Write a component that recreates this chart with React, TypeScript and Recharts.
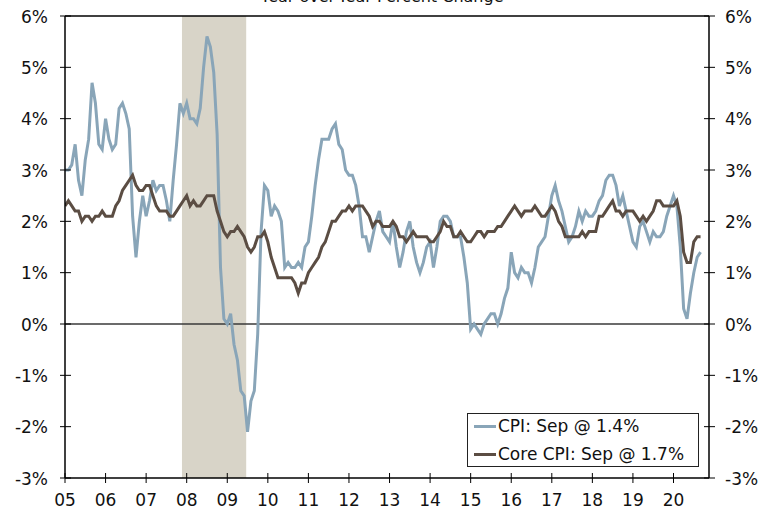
import React from "react";
import {
  LineChart,
  Line,
  XAxis,
  YAxis,
  ReferenceArea,
  ReferenceLine,
  Legend,
} from "recharts";

// Monthly YoY % change, Jan 2005 .. Sep 2020
const cpi: number[] = [
  // 2005
  3.0, 3.0, 3.1, 3.5, 2.8, 2.5, 3.2, 3.6, 4.7, 4.3, 3.5, 3.4,
  // 2006
  4.0, 3.6, 3.4, 3.5, 4.2, 4.3, 4.1, 3.8, 2.1, 1.3, 2.0, 2.5,
  // 2007
  2.1, 2.4, 2.8, 2.6, 2.7, 2.7, 2.4, 2.0, 2.8, 3.5, 4.3, 4.1,
  // 2008
  4.3, 4.0, 4.0, 3.9, 4.2, 5.0, 5.6, 5.4, 4.9, 3.7, 1.1, 0.1,
  // 2009
  0.0, 0.2, -0.4, -0.7, -1.3, -1.4, -2.1, -1.5, -1.3, -0.2, 1.8, 2.7,
  // 2010
  2.6, 2.1, 2.3, 2.2, 2.0, 1.1, 1.2, 1.1, 1.1, 1.2, 1.1, 1.5,
  // 2011
  1.6, 2.1, 2.7, 3.2, 3.6, 3.6, 3.6, 3.8, 3.9, 3.5, 3.4, 3.0,
  // 2012
  2.9, 2.9, 2.7, 2.3, 1.7, 1.7, 1.4, 1.7, 2.0, 2.2, 1.8, 1.7,
  // 2013
  1.6, 2.0, 1.5, 1.1, 1.4, 1.8, 2.0, 1.5, 1.2, 1.0, 1.2, 1.5,
  // 2014
  1.6, 1.1, 1.5, 2.0, 2.1, 2.1, 2.0, 1.7, 1.7, 1.7, 1.3, 0.8,
  // 2015
  -0.1, 0.0, -0.1, -0.2, 0.0, 0.1, 0.2, 0.2, 0.0, 0.2, 0.5, 0.7,
  // 2016
  1.4, 1.0, 0.9, 1.1, 1.0, 1.0, 0.8, 1.1, 1.5, 1.6, 1.7, 2.1,
  // 2017
  2.5, 2.7, 2.4, 2.2, 1.9, 1.6, 1.7, 1.9, 2.2, 2.0, 2.2, 2.1,
  // 2018
  2.1, 2.2, 2.4, 2.5, 2.8, 2.9, 2.9, 2.7, 2.3, 2.5, 2.2, 1.9,
  // 2019
  1.6, 1.5, 1.9, 2.0, 1.8, 1.6, 1.8, 1.7, 1.7, 1.8, 2.1, 2.3,
  // 2020
  2.5, 2.3, 1.5, 0.3, 0.1, 0.6, 1.0, 1.3, 1.4,
];

const core: number[] = [
  // 2005
  2.3, 2.4, 2.3, 2.2, 2.2, 2.0, 2.1, 2.1, 2.0, 2.1, 2.1, 2.2,
  // 2006
  2.1, 2.1, 2.1, 2.3, 2.4, 2.6, 2.7, 2.8, 2.9, 2.7, 2.6, 2.6,
  // 2007
  2.7, 2.7, 2.5, 2.3, 2.2, 2.2, 2.2, 2.1, 2.1, 2.2, 2.3, 2.4,
  // 2008
  2.5, 2.3, 2.4, 2.3, 2.3, 2.4, 2.5, 2.5, 2.5, 2.2, 2.0, 1.8,
  // 2009
  1.7, 1.8, 1.8, 1.9, 1.8, 1.7, 1.5, 1.4, 1.5, 1.7, 1.7, 1.8,
  // 2010
  1.6, 1.3, 1.1, 0.9, 0.9, 0.9, 0.9, 0.9, 0.8, 0.6, 0.8, 0.8,
  // 2011
  1.0, 1.1, 1.2, 1.3, 1.5, 1.6, 1.8, 2.0, 2.0, 2.1, 2.2, 2.2,
  // 2012
  2.3, 2.2, 2.3, 2.3, 2.3, 2.2, 2.1, 1.9, 2.0, 2.0, 1.9, 1.9,
  // 2013
  1.9, 2.0, 1.9, 1.7, 1.7, 1.6, 1.7, 1.8, 1.7, 1.7, 1.7, 1.7,
  // 2014
  1.6, 1.6, 1.7, 1.8, 2.0, 1.9, 1.9, 1.7, 1.7, 1.8, 1.7, 1.6,
  // 2015
  1.6, 1.7, 1.8, 1.8, 1.7, 1.8, 1.8, 1.8, 1.9, 1.9, 2.0, 2.1,
  // 2016
  2.2, 2.3, 2.2, 2.1, 2.2, 2.2, 2.2, 2.3, 2.2, 2.1, 2.1, 2.2,
  // 2017
  2.3, 2.2, 2.0, 1.9, 1.7, 1.7, 1.7, 1.7, 1.7, 1.8, 1.7, 1.8,
  // 2018
  1.8, 1.8, 2.1, 2.1, 2.2, 2.3, 2.4, 2.2, 2.2, 2.1, 2.2, 2.2,
  // 2019
  2.2, 2.1, 2.0, 2.1, 2.0, 2.1, 2.2, 2.4, 2.4, 2.3, 2.3, 2.3,
  // 2020
  2.3, 2.4, 2.1, 1.4, 1.2, 1.2, 1.6, 1.7, 1.7,
];

// x tick labels (years), placed at January of each year (month index from Jan 2005)
const yearLabels: string[] = [
  "05", "06", "07", "08", "09", "10", "11", "12",
  "13", "14", "15", "16", "17", "18", "19", "20",
];
const yTicks: number[] = [-3, -2, -1, 0, 1, 2, 3, 4, 5, 6];

// Recession (month index from Jan 2005): Dec 2007 - Jun 2009
const recessionStart = 34.6;
const recessionEnd = 53.6;

const title = "Year-over-Year Percent Change";
const cpiName = "CPI: Sep @ 1.4%";
const coreName = "Core CPI: Sep @ 1.7%";

const CPI_COLOR = "#89A5B8";
const CORE_COLOR = "#5B4D43";
const SHADE = "#D8D4C8";
const FONT = "Verdana, 'DejaVu Sans', sans-serif";

const rows = cpi.map((v, i) => ({ i, cpi: v, core: core[i] }));
const xTicks = yearLabels.map((_, k) => k * 12);

const XTick = (props: any) => {
  const { x, y, payload } = props;
  const label = yearLabels[Math.round(payload.value / 12)];
  return (
    <g>
      <line x1={x} x2={x} y1={y - 5} y2={y + 5} stroke="#000" strokeWidth={1} />
      <text x={x} y={y + 28} textAnchor="middle" fontSize={17} fontFamily={FONT} fill="#111">
        {label}
      </text>
    </g>
  );
};

const LeftTick = (props: any) => {
  const { x, y, payload } = props;
  return (
    <g>
      <line x1={x - 5} x2={x + 6} y1={y} y2={y} stroke="#000" strokeWidth={1} />
      <text x={x - 17} y={y + 6.5} textAnchor="end" fontSize={17} fontFamily={FONT} fill="#111">
        {`${payload.value}%`}
      </text>
    </g>
  );
};

const RightTick = (props: any) => {
  const { x, y, payload } = props;
  return (
    <g>
      <line x1={x - 5} x2={x + 6} y1={y} y2={y} stroke="#000" strokeWidth={1} />
      <text x={x + 16} y={y + 6.5} textAnchor="start" fontSize={17} fontFamily={FONT} fill="#111">
        {`${payload.value}%`}
      </text>
    </g>
  );
};

const LegendBox = () => (
  <div
    style={{
      position: "relative",
      width: 232,
      height: 54,
      boxSizing: "border-box",
      border: "1px solid #222",
      background: "#fff",
      fontFamily: FONT,
      fontSize: 17,
      color: "#111",
    }}
  >
    {[
      { name: cpiName, color: CPI_COLOR, top: 13 },
      { name: coreName, color: CORE_COLOR, top: 41 },
    ].map((r) => (
      <React.Fragment key={r.name}>
        <div
          style={{
            position: "absolute",
            left: 6,
            top: r.top - 2,
            width: 22,
            height: 3,
            background: r.color,
          }}
        />
        <div
          style={{
            position: "absolute",
            left: 30,
            top: r.top - 11,
            lineHeight: "20px",
            whiteSpace: "nowrap",
          }}
        >
          {r.name}
        </div>
      </React.Fragment>
    ))}
  </div>
);

export default function App() {
  return (
    <div style={{ position: "absolute", left: 0, top: 0, width: 775, height: 511, background: "#fff" }}>
      <LineChart
        width={775}
        height={511}
        data={rows}
        margin={{ top: 16, right: 0, bottom: 0, left: 0 }}
      >
        <XAxis
          dataKey="i"
          type="number"
          domain={[0, 190.5]}
          ticks={xTicks}
          tick={<XTick />}
          tickLine={false}
          tickSize={0}
          tickMargin={0}
          height={33}
          axisLine={{ stroke: "#000", strokeWidth: 1.5 }}
          allowDataOverflow
          interval={0}
        />
        <YAxis
          yAxisId="left"
          orientation="left"
          domain={[-3, 6]}
          ticks={yTicks}
          tick={<LeftTick />}
          tickLine={false}
          tickSize={0}
          tickMargin={0}
          width={65}
          axisLine={{ stroke: "#000", strokeWidth: 1.5 }}
          allowDataOverflow
          interval={0}
        />
        <YAxis
          yAxisId="right"
          orientation="right"
          domain={[-3, 6]}
          ticks={yTicks}
          tick={<RightTick />}
          tickLine={false}
          tickSize={0}
          tickMargin={0}
          width={66}
          axisLine={{ stroke: "#000", strokeWidth: 1.5 }}
          allowDataOverflow
          interval={0}
        />
        <ReferenceArea
          yAxisId="left"
          x1={recessionStart}
          x2={recessionEnd}
          y1={-3}
          y2={6}
          fill={SHADE}
          fillOpacity={1}
          stroke="none"
        />
        <ReferenceLine yAxisId="left" y={0} stroke="#3a3a3a" strokeWidth={1.4} />
        <ReferenceLine yAxisId="left" y={6} stroke="#000" strokeWidth={1.5} />
        <Line
          yAxisId="left"
          type="linear"
          dataKey="cpi"
          name={cpiName}
          stroke={CPI_COLOR}
          strokeWidth={3}
          dot={false}
          activeDot={false}
          isAnimationActive={false}
        />
        <Line
          yAxisId="left"
          type="linear"
          dataKey="core"
          name={coreName}
          stroke={CORE_COLOR}
          strokeWidth={3}
          dot={false}
          activeDot={false}
          isAnimationActive={false}
        />
        <Legend
          layout="horizontal"
          verticalAlign="middle"
          align="center"
          content={<LegendBox />}
          wrapperStyle={{ position: "absolute", left: 467, top: 413, width: 232, height: 54 }}
        />
      </LineChart>
      <svg
        width={775}
        height={16}
        style={{ position: "absolute", left: 0, top: 0, overflow: "hidden" }}
      >
        <text x={382} y={2} textAnchor="middle" fontSize={16} fontFamily={FONT} fill="#111">
          {title}
        </text>
      </svg>
    </div>
  );
}
